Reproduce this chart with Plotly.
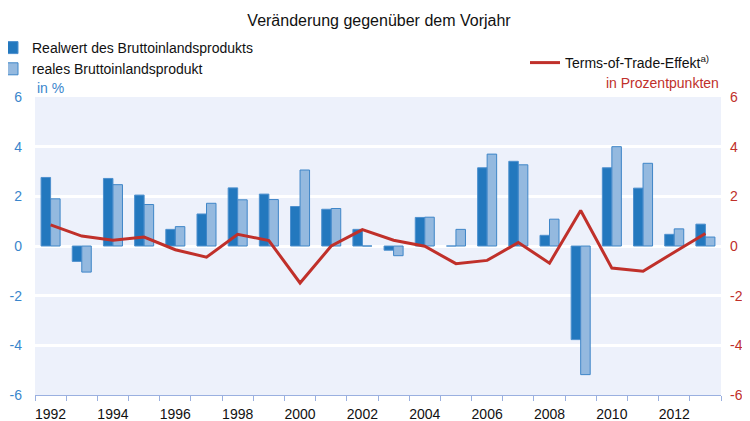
import plotly.graph_objects as go

years = list(range(1992, 2014))
realwert_bip = [2.76, -0.62, 2.72, 2.05, 0.67, 1.29, 2.34, 2.09, 1.59, 1.48, 0.67, -0.17,
                1.15, 0.0, 3.15, 3.41, 0.43, -3.77, 3.15, 2.33, 0.47, 0.88]
reales_bip = [1.90, -1.05, 2.47, 1.67, 0.78, 1.72, 1.86, 1.87, 3.06, 1.51, 0.0, -0.39,
              1.16, 0.67, 3.70, 3.27, 1.08, -5.18, 4.00, 3.33, 0.69, 0.36]
tot_effekt = [0.85, 0.40, 0.23, 0.36, -0.15, -0.45, 0.47, 0.22, -1.49, 0.0, 0.66, 0.23,
              -0.01, -0.71, -0.58, 0.14, -0.69, 1.43, -0.89, -1.02, -0.25, 0.50]
y_ticks = [-6, -4, -2, 0, 2, 4, 6]
y_ticktext = ["-6", "-4", "-2", "0", "2", "4", "6"]
x_labels = list(range(1992, 2014, 2))

FONT = "Liberation Sans, Arial, sans-serif"
DARK = "#2378BE"
LIGHT = "#94B9DF"
RED = "#C0302A"
BLUE_TXT = "#3A86CC"

fig = go.Figure()
fig.add_trace(go.Bar(x=years, y=realwert_bip, name="Realwert des Bruttoinlandsprodukts",
                     marker=dict(color=DARK, line=dict(color="#4E90CE", width=1)),
                     legend="legend"))
fig.add_trace(go.Bar(x=years, y=reales_bip, name="reales Bruttoinlandsprodukt",
                     marker=dict(color=LIGHT, line=dict(color="#3F86C8", width=1)),
                     legend="legend"))
fig.add_trace(go.Scatter(x=years, y=tot_effekt, name="Terms-of-Trade-Effekt<sup>a)</sup>",
                         mode="lines", line=dict(color=RED, width=3), yaxis="y2",
                         legend="legend2"))

# page body has an 8px margin: figure pixel = screen pixel - 8
OFF = 8
W, H = 742, 413
L = 35 - OFF
T = 97 - OFF
R = W - (721 - OFF)
B = H - (395 - OFF)
pw, ph = W - L - R, H - T - B

def px_x(sx):
    return (sx - OFF - L) / pw

def px_y(sy):
    return (H - B - (sy - OFF)) / ph

fig.update_layout(
    width=W, height=H,
    margin=dict(l=L, r=R, t=T, b=B, pad=0, autoexpand=False),
    paper_bgcolor="white",
    plot_bgcolor="#EDF1FB",
    font=dict(family=FONT, size=14, color="#111111"),
    barmode="group", bargap=0.39, bargroupgap=0.0,
    title=dict(text="Veränderung gegenüber dem Vorjahr", x=0.5, xanchor="center",
               y=1 - (20 - OFF) / H, yanchor="middle", yref="container",
               font=dict(family=FONT, size=16, color="#111111")),
    xaxis=dict(range=[1991.5, 2013.5], tickmode="array", tickvals=x_labels,
               ticktext=[str(v) for v in x_labels], ticks="", showgrid=False,
               zeroline=False, showline=True, linecolor="#9AB0E0", linewidth=1,
               tickfont=dict(family=FONT, size=14, color="#111111"),
               ticklabelstandoff=6, automargin=False,
               minor=dict(tickmode="linear", tick0=1991.5, dtick=1, ticks="outside",
                          ticklen=5, tickcolor="#9AB0E0", tickwidth=1, showgrid=False)),
    yaxis=dict(range=[-6, 6], tickmode="array", tickvals=y_ticks, ticktext=y_ticktext,
               showgrid=True, gridcolor="white", gridwidth=2.5, zeroline=False,
               tickfont=dict(family=FONT, size=14, color=BLUE_TXT), ticks="",
               ticklabelstandoff=12, automargin=False),
    yaxis2=dict(range=[-6, 6], tickmode="array", tickvals=y_ticks, ticktext=y_ticktext,
                overlaying="y", side="right", showgrid=False, zeroline=False,
                tickfont=dict(family=FONT, size=14, color=RED), ticks="",
                ticklabelstandoff=8, automargin=False),
    legend=dict(x=px_x(-8), y=px_y(32), xanchor="left", yanchor="top",
                bgcolor="rgba(0,0,0,0)", borderwidth=0, tracegroupgap=0,
                font=dict(family=FONT, size=14, color="#111111"), traceorder="normal"),
    legend2=dict(x=px_x(525), y=px_y(47), xanchor="left", yanchor="top",
                 bgcolor="rgba(0,0,0,0)", borderwidth=0,
                 font=dict(family=FONT, size=14, color="#111111")),
    annotations=[
        dict(text="in %", xref="paper", yref="paper", x=px_x(35), y=px_y(88),
             xanchor="left", yanchor="middle", showarrow=False,
             font=dict(family=FONT, size=14, color=BLUE_TXT)),
        dict(text="in Prozentpunkten", xref="paper", yref="paper", x=px_x(721), y=px_y(83),
             xanchor="right", yanchor="middle", showarrow=False,
             font=dict(family=FONT, size=14, color=RED)),
    ],
)

fig.write_html("out.html")
